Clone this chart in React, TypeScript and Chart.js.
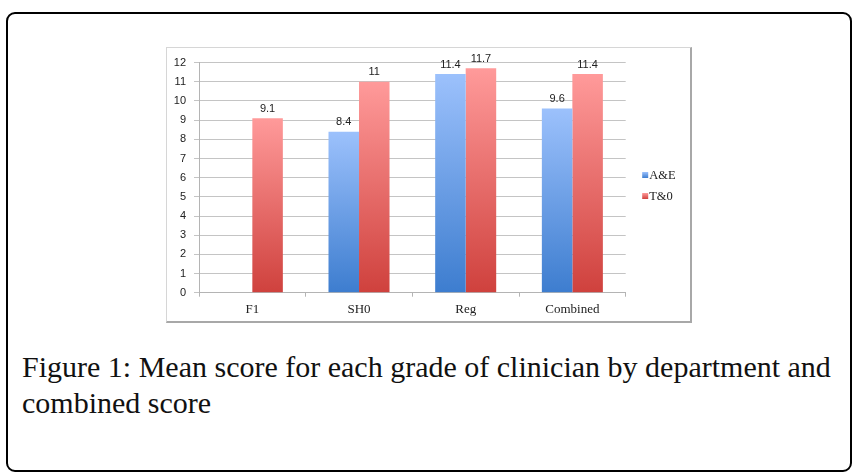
import React, { useEffect, useRef } from "react";
import { Chart, registerables } from "chart.js";

Chart.register(...registerables);

const categories = ["F1", "SH0", "Reg", "Combined"];
const aeValues: (number | null)[] = [null, 8.4, 11.4, 9.6];
const toValues: (number | null)[] = [9.1, 11, 11.7, 11.4];
const seriesNames = ["A&E", "T&0"];
const yTicks = [0, 1, 2, 3, 4, 5, 6, 7, 8, 9, 10, 11, 12];

const palettes = [
  { top: "#9cc1fc", bottom: "#3d7dcf" },
  { top: "#ff9a9a", bottom: "#cf413d" },
];

function barGradient(idx: number) {
  return (ctx: any) => {
    const chart = ctx.chart;
    const pal = palettes[idx];
    if (!chart.chartArea || ctx.raw == null) return pal.top;
    const y = chart.scales.y;
    const top = y.getPixelForValue(ctx.raw);
    const bottom = y.getPixelForValue(0);
    const g = chart.ctx.createLinearGradient(0, top, 0, bottom);
    g.addColorStop(0, pal.top);
    g.addColorStop(1, pal.bottom);
    return g;
  };
}

const valueLabels = {
  id: "valueLabels",
  afterDatasetsDraw(chart: any) {
    const c = chart.ctx;
    c.save();
    c.font = "11px 'Liberation Sans', Arial, sans-serif";
    c.fillStyle = "#222";
    c.textAlign = "center";
    c.textBaseline = "bottom";
    chart.data.datasets.forEach((ds: any, di: number) => {
      const meta = chart.getDatasetMeta(di);
      meta.data.forEach((el: any, i: number) => {
        const v = ds.data[i];
        if (v == null) return;
        c.fillText(String(v), el.x, el.y - 4);
      });
    });
    c.restore();
  },
};

const sideLegend = {
  id: "sideLegend",
  afterDraw(chart: any) {
    const c = chart.ctx;
    const x = chart.chartArea.right + 19.5;
    const y0 = chart.height / 2 - 9.5;
    c.save();
    c.font = "12.5px 'Liberation Serif', 'Times New Roman', serif";
    c.textBaseline = "middle";
    c.textAlign = "left";
    chart.data.datasets.forEach((ds: any, i: number) => {
      const y = y0 + i * 21;
      const g = c.createLinearGradient(0, y - 3, 0, y + 3);
      g.addColorStop(0, palettes[i].top);
      g.addColorStop(1, palettes[i].bottom);
      c.fillStyle = g;
      c.fillRect(x - 3, y - 3, 6, 6);
      c.fillStyle = "#222";
      c.fillText(ds.label, x + 4, y + 0.5);
    });
    c.restore();
  },
};

export default function App() {
  const ref = useRef<HTMLCanvasElement | null>(null);
  useEffect(() => {
    if (!ref.current) return;
    const chart = new Chart(ref.current, {
      type: "bar",
      data: {
        labels: categories,
        datasets: [
          {
            label: seriesNames[0],
            data: aeValues,
            backgroundColor: barGradient(0),
            categoryPercentage: 0.572,
            barPercentage: 1,
          },
          {
            label: seriesNames[1],
            data: toValues,
            backgroundColor: barGradient(1),
            categoryPercentage: 0.572,
            barPercentage: 1,
          },
        ],
      },
      options: {
        animation: false,
        responsive: true,
        maintainAspectRatio: false,
        layout: { padding: { left: 7, top: 12.7, right: 64.3, bottom: 5.3 } },
        plugins: {
          legend: { display: false },
          tooltip: { enabled: false },
        },
        scales: {
          x: {
            afterFit: (s: any) => {
              s.height = 23;
            },
            grid: {
              offset: true,
              drawOnChartArea: false,
              drawTicks: true,
              tickLength: 4,
              color: "#b4b4b4",
            },
            border: { color: "#b4b4b4" },
            ticks: {
              padding: 5,
              color: "#222",
              font: { family: "'Liberation Serif', 'Times New Roman', serif", size: 13 },
            },
          },
          y: {
            min: 0,
            max: 12,
            afterFit: (s: any) => {
              s.width = 25;
            },
            afterBuildTicks: (s: any) => {
              s.ticks = yTicks.map((v) => ({ value: v }));
            },
            grid: { color: "#c4c4c4", tickLength: 5 },
            border: { color: "#b4b4b4" },
            ticks: {
              padding: 8,
              color: "#222",
              font: { family: "'Liberation Sans', Arial, sans-serif", size: 11 },
            },
          },
        },
      },
      plugins: [valueLabels, sideLegend],
    });
    return () => chart.destroy();
  }, []);

  return (
    <div>
      <div
        style={{
          position: "absolute",
          left: 6,
          top: 12,
          width: 846,
          height: 460,
          boxSizing: "border-box",
          border: "2px solid #000",
          borderRadius: 9,
        }}
      />
      <div
        style={{
          position: "absolute",
          left: 166,
          top: 47,
          width: 526,
          height: 276,
          boxSizing: "border-box",
          borderTop: "1px solid #d6d6d6",
          borderLeft: "1px solid #d6d6d6",
          borderRight: "2px solid #a8a8a8",
          borderBottom: "2px solid #a8a8a8",
          background: "#fff",
        }}
      >
        <div style={{ position: "relative", width: 523, height: 273 }}>
          <canvas ref={ref} />
        </div>
      </div>
      <div
        style={{
          position: "absolute",
          left: 22,
          top: 349,
          width: 826,
          fontFamily: "'Liberation Serif', 'Times New Roman', serif",
          fontSize: 30,
          lineHeight: "36px",
          color: "#111",
        }}
      >
        Figure 1: Mean score for each grade of clinician by department and combined score
      </div>
    </div>
  );
}
